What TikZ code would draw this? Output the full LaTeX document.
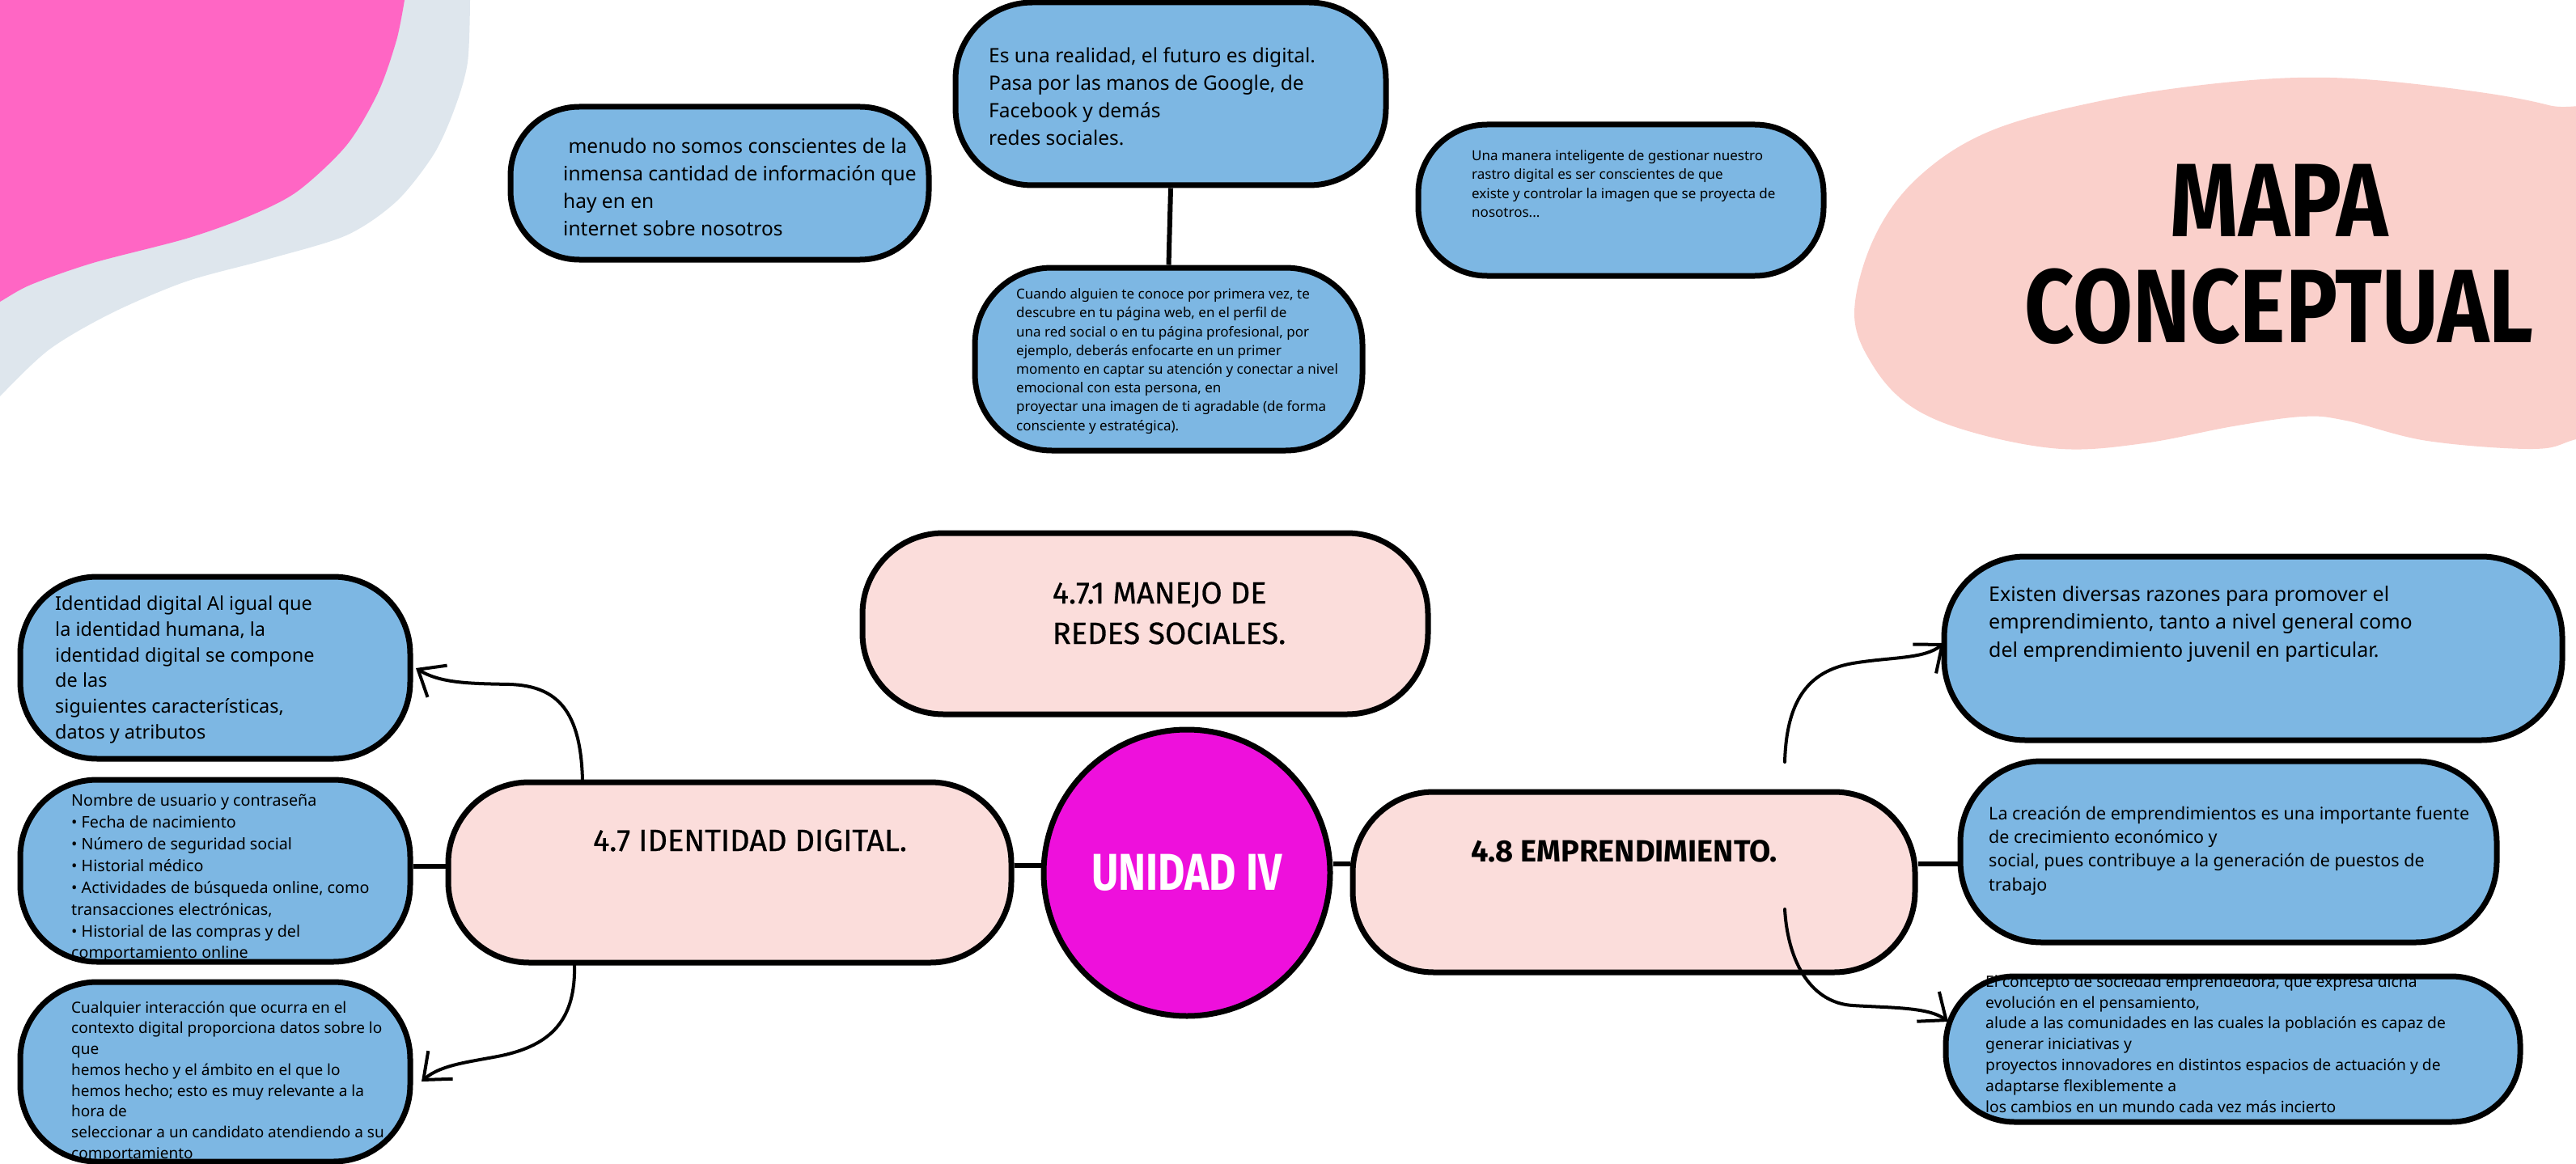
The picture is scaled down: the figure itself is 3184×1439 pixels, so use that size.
\documentclass[tikz,border=0pt]{standalone}
\usepackage{fontspec}
\setmainfont{Noto Sans}
\newfontfamily\headfont{Fira Sans}[FakeBold=0.7]
\newfontfamily\headbold{Fira Sans}
\newfontfamily\titlefont{Fira Sans}[FakeStretch=0.83]
\newfontfamily\unifont{Fira Sans}[FakeStretch=0.8]
\usetikzlibrary{arrows.meta,backgrounds,calc}
\definecolor{boxblue}{RGB}{125,183,227}
\definecolor{boxpink}{RGB}{251,221,219}
\definecolor{blobpink}{RGB}{250,208,203}
\definecolor{hotpink}{RGB}{255,102,196}
\definecolor{blobgray}{RGB}{222,230,237}
\definecolor{unimag}{RGB}{238,16,220}
\begin{document}
\begin{tikzpicture}[x=1pt,y=-1pt,
  bluebox/.style={draw=black,line width=7pt,fill=boxblue,rounded corners=95pt,inner sep=0pt},
  pinkbox/.style={draw=black,line width=7pt,fill=boxpink,rounded corners=100pt,inner sep=0pt},
  txt/.style={anchor=north west,align=left,inner sep=0pt},
  head/.style={anchor=center,align=left,inner sep=0pt},
  link/.style={line width=6pt},
  arr/.style={line width=4pt,line cap=round,-{Straight Barb[length=28pt,width=46pt,line width=4pt]}}]
\useasboundingbox (0,0) rectangle (3184,1439);
% decorative blobs
\fill[blobgray] (-10,-10) -- (582,-10) -- plot[smooth] coordinates {(581,0) (578,77) (562,134) (536,191) (490,249) (428,291) (329,321) (230,348) (138,387) (61,432) (0,490) (-10,505)} -- cycle;
\fill[hotpink] (-10,-10) -- (501,-10) -- plot[smooth] coordinates {(500,0) (490,50) (467,115) (428,180) (367,237) (306,268) (230,295) (115,325) (38,352) (0,373) (-10,378)} -- cycle;
\fill[blobpink] plot[smooth cycle,tension=0.6] coordinates {(2292,387) (2316,295) (2370,220) (2460,162) (2600,124) (2750,102) (2880,96) (3020,108) (3150,130) (3260,170) (3260,520) (3184,543) (3131,555) (3000,545) (2900,520) (2846,515) (2760,527) (2650,548) (2548,555) (2440,535) (2363,503) (2315,452)};
\node[inner sep=0pt,align=center,font={\titlefont\bfseries\fontsize{129}{131}\selectfont}] (title) at (2817,314) {MAPA\\CONCEPTUAL};

% top boxes
\node[bluebox,rounded corners=85pt,minimum width=517pt,minimum height=189pt] (t1) at (889.5,226.5) {};
\node[txt,font={\fontsize{24.5}{34}\selectfont}] (t1t) at (696,171) {\ menudo no somos conscientes de la\\inmensa cantidad de información que\\hay en en\\internet sobre nosotros};
\node[bluebox,rounded corners=95pt,minimum width=532pt,minimum height=226pt] (t2) at (1447,116) {};
\node[txt,font={\fontsize{24.5}{34}\selectfont}] (t2t) at (1222,59) {Es una realidad, el futuro es digital.\\Pasa por las manos de Google, de\\Facebook y demás\\redes sociales.};
\node[bluebox,rounded corners=95pt,minimum width=479pt,minimum height=226pt] (cu) at (1444.5,444) {};
\node[txt,font={\fontsize{17}{23.2}\selectfont}] (cut) at (1256,356.5) {Cuando alguien te conoce por primera vez, te\\descubre en tu página web, en el perfil de\\una red social o en tu página profesional, por\\ejemplo, deberás enfocarte en un primer\\momento en captar su atención y conectar a nivel\\emocional con esta persona, en\\proyectar una imagen de ti agradable (de forma\\consciente y estratégica).};
\node[bluebox,rounded corners=85pt,minimum width=501pt,minimum height=187pt] (um) at (2003.5,247.5) {};
\node[txt,font={\fontsize{17}{23.3}\selectfont}] (umt) at (1819,185.5) {Una manera inteligente de gestionar nuestro\\rastro digital es ser conscientes de que\\existe y controlar la imagen que se proyecta de\\nosotros...};

% left boxes
\node[bluebox,minimum width=482pt,minimum height=225pt] (L1) at (266,825.5) {};
\node[txt,font={\fontsize{23.5}{31.8}\selectfont}] (L1t) at (68,736.5) {Identidad digital Al igual que\\la identidad humana, la\\identidad digital se compone\\de las\\siguientes características,\\datos y atributos};
\node[bluebox,minimum width=482pt,minimum height=225pt] (L2) at (266,1076.5) {};
\node[txt,font={\fontsize{19.7}{26.9}\selectfont}] (L2t) at (88,981.5) {Nombre de usuario y contraseña\\• Fecha de nacimiento\\• Número de seguridad social\\• Historial médico\\• Actividades de búsqueda online, como\\transacciones electrónicas,\\• Historial de las compras y del\\comportamiento online};
\node[bluebox,minimum width=482pt,minimum height=222pt] (L3) at (266,1325) {};
\node[txt,font={\fontsize{19}{25.7}\selectfont}] (L3t) at (88,1237.5) {Cualquier interacción que ocurra en el\\contexto digital proporciona datos sobre lo\\que\\hemos hecho y el ámbito en el que lo\\hemos hecho; esto es muy relevante a la\\hora de\\seleccionar a un candidato atendiendo a su\\comportamiento};

% central row
\node[pinkbox,minimum width=699pt,minimum height=224pt] (b471) at (1415.5,771) {};
\node[head,font={\headfont\fontsize{38}{50}\selectfont}] (b471t) at (1445,758) {4.7.1 MANEJO DE\\REDES SOCIALES.};
\node[pinkbox,minimum width=696pt,minimum height=223pt] (b47) at (902,1078.5) {};
\node[head,font={\headfont\fontsize{38}{50}\selectfont}] (b47t) at (927,1039) {4.7 IDENTIDAD DIGITAL.};
\node[circle,draw=black,line width=7pt,fill=unimag,minimum size=354pt,inner sep=0pt,text=white,font={\unifont\bfseries\fontsize{64}{64}\selectfont}] (u) at (1467,1079) {UNIDAD IV};
\node[pinkbox,minimum width=695pt,minimum height=223pt] (b48) at (2019.5,1090.5) {};
\node[head,font={\headbold\bfseries\fontsize{38}{50}\selectfont}] (b48t) at (2007.5,1052) {4.8 EMPRENDIMIENTO.};

% right boxes
\node[bluebox,rounded corners=100pt,minimum width=764pt,minimum height=227pt] (R1) at (2785,801.5) {};
\node[txt,font={\fontsize{25}{34.5}\selectfont}] (R1t) at (2458,724) {Existen diversas razones para promover el\\emprendimiento, tanto a nivel general como\\del emprendimiento juvenil en particular.};
\node[bluebox,rounded corners=100pt,minimum width=663pt,minimum height=224pt] (R2) at (2754.5,1053) {};
\node[txt,font={\fontsize{21.5}{29.3}\selectfont}] (R2t) at (2458,996.5) {La creación de emprendimientos es una importante fuente\\de crecimiento económico y\\social, pues contribuye a la generación de puestos de\\trabajo};
\node[bluebox,rounded corners=85pt,minimum width=710pt,minimum height=180pt] (R3) at (2760,1297) {};
\node[txt,font={\fontsize{19.3}{25.8}\selectfont}] (R3t) at (2454,1205.5) {El concepto de sociedad emprendedora, que expresa dicha\\evolución en el pensamiento,\\alude a las comunidades en las cuales la población es capaz de\\generar iniciativas y\\proyectos innovadores en distintos espacios de actuación y de\\adaptarse flexiblemente a\\los cambios en un mundo cada vez más incierto};

% straight connectors
\begin{scope}[on background layer]
\draw[link] (t2.south) -- (cu.north);
\draw[link] ([yshift=5.5pt]L2.east) -- ([yshift=5.5pt]L2.east -| b47.west);
\draw[link] ([yshift=8.5pt]b47.east) -- ([yshift=8.5pt]b47.east -| u.west);
\draw[link] ([yshift=11pt]u.east) -- ([yshift=11pt]u.east -| b48.west);
\draw[link] ([yshift=22.5pt]b48.east) -- ([yshift=22.5pt]b48.east -| R2.west);
\end{scope}

% curved arrows
\coordinate (a1s) at (720,965);
\coordinate (a1e) at (514,826);
\coordinate (a2s) at (710,1192);
\coordinate (a2e) at (521,1337);
\coordinate (a3s) at (2206,942);
\coordinate (a3e) at (2403,795);
\coordinate (a4s) at (2206,1124);
\coordinate (a4e) at (2408,1263);
\draw[arr] (a1s) .. controls (718,880) and (690,848) .. (630,846) .. controls (582,845) and (545,845) .. (a1e);
\draw[arr] (a2s) .. controls (712,1262) and (680,1292) .. (620,1305) .. controls (580,1313) and (545,1316) .. (a2e);
\draw[arr] (a3s) .. controls (2208,870) and (2232,830) .. (2290,820) .. controls (2338,812) and (2378,815) .. (a3e);
\draw[arr] (a4s) .. controls (2210,1192) and (2240,1240) .. (2290,1243) .. controls (2338,1246) and (2384,1245) .. (a4e);
\end{tikzpicture}
\end{document}
